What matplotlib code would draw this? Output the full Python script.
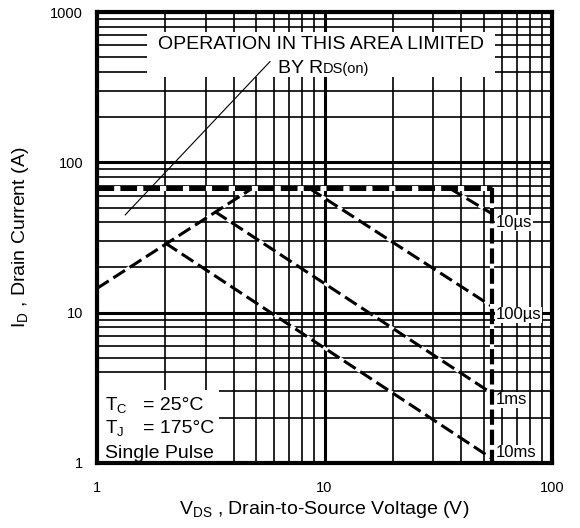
import matplotlib
matplotlib.use("Agg")
import matplotlib.pyplot as plt
from matplotlib.patches import Rectangle
from matplotlib.ticker import LogLocator, NullFormatter, FixedLocator, FixedFormatter

plt.rcParams['font.family'] = ['Liberation Sans', 'DejaVu Sans']
plt.rcParams['mathtext.fontset'] = 'custom'
plt.rcParams['mathtext.rm'] = 'Liberation Sans'
plt.rcParams['mathtext.it'] = 'Liberation Sans'
plt.rcParams['lines.scale_dashes'] = False

# SOA limits
i_max = 67.0          # package / current limit (A)
v_max = 54.5          # BVdss limit (V)
rds_v = [1.0, 4.8]    # RDS(on) limited rising segment
rds_i = [14.5, 67.0]

pulse_labels = ['10µs', '100µs', '1ms', '10ms']
pulse_v = [[35.6, 54.5], [8.6, 54.5], [3.3, 54.5], [2.0, 54.5]]
pulse_i = [[67.0, 45.5], [67.0, 11.0], [47.0, 2.9], [29.0, 1.07]]
label_i = [39.5, 9.66, 2.63, 1.17]

# thin annotation line pointing at the RDS(on) limit
arrow_v = [1.33, 5.76]
arrow_i = [44.7, 468.0]

x_ticks = [1, 10, 100]
y_ticks = [1, 10, 100, 1000]

fig = plt.figure(figsize=(5.8, 5.28), dpi=100)
ax = fig.add_axes([97 / 580, 1 - 463 / 528, 455 / 580, 451 / 528])
ax.set_xscale('log')
ax.set_yscale('log')
ax.set_xlim(1, 100)
ax.set_ylim(1, 1000)

ax.xaxis.set_major_locator(FixedLocator(x_ticks))
ax.xaxis.set_major_formatter(FixedFormatter([str(t) for t in x_ticks]))
ax.yaxis.set_major_locator(FixedLocator(y_ticks))
ax.yaxis.set_major_formatter(FixedFormatter([str(t) for t in y_ticks]))
for axis in (ax.xaxis, ax.yaxis):
    axis.set_minor_locator(LogLocator(base=10, subs=range(2, 10)))
    axis.set_minor_formatter(NullFormatter())
ax.tick_params(which='both', length=0, labelsize=10.5)
ax.tick_params(axis='x', pad=13)
ax.tick_params(axis='y', pad=10)

ax.grid(which='major', color='black', lw=2.2, zorder=1)
ax.grid(which='minor', color='black', lw=1.2, zorder=1)
ax.set_axisbelow(True)
for s in ax.spines.values():
    s.set_linewidth(3.0)
    s.set_zorder(10)

# white patches behind the text blocks
ax.add_patch(Rectangle((1.66, 372), 56.2 - 1.66, 741 - 372, facecolor='white',
                       edgecolor='none', zorder=2))
ax.add_patch(Rectangle((1.0, 1.0), 2.45, 2.05, facecolor='white',
                       edgecolor='none', zorder=2))

# limit lines
ax.plot([1, v_max], [i_max, i_max], color='black', lw=3.6, dashes=(12, 4.5),
        gapcolor='white', zorder=5, solid_capstyle='butt', dash_capstyle='butt')
ax.plot([v_max, v_max], [i_max, 1], color='black', lw=3.0, dashes=(11, 3.5),
        gapcolor='white', zorder=5, dash_capstyle='butt')
ax.plot(rds_v, rds_i, color='black', lw=2.2, dashes=(10, 4),
        gapcolor='white', zorder=4, dash_capstyle='butt')
for v, i in zip(pulse_v, pulse_i):
    ax.plot(v, i, color='black', lw=2.2, dashes=(10, 4), gapcolor='white',
            zorder=4, dash_capstyle='butt')

ax.plot(arrow_v, arrow_i, color='black', lw=0.8, zorder=6)

for lab, yi in zip(pulse_labels, label_i):
    ax.text(56.8, yi, lab, fontsize=12, ha='left', va='center', zorder=7,
            bbox=dict(facecolor='white', edgecolor='none', pad=0.5))

ax.text(9.65, 566, 'OPERATION IN THIS AREA LIMITED', fontsize=14,
        ha='center', va='baseline', zorder=7)
ax.text(9.85, 392, 'BY R', fontsize=14, ha='right', va='baseline', zorder=7)
ax.text(9.85, 392, 'DS(on)', fontsize=10.5, ha='left', va='baseline', zorder=7)

ax.text(1.084, 2.25, r'T$_\mathregular{C}$', fontsize=13.5, ha='left',
        va='baseline', zorder=7)
ax.text(1.6, 2.25, '= 25°C', fontsize=14, ha='left', va='baseline', zorder=7)
ax.text(1.084, 1.58, r'T$_\mathregular{J}$', fontsize=13.5, ha='left',
        va='baseline', zorder=7)
ax.text(1.6, 1.58, '= 175°C', fontsize=14, ha='left', va='baseline', zorder=7)
ax.text(1.084, 1.08, 'Single Pulse', fontsize=14, ha='left',
        va='baseline', zorder=7)

ax.set_xlabel(r'V$_\mathregular{DS}$ , Drain-to-Source Voltage (V)',
              fontsize=14, labelpad=3)
ax.set_ylabel(r'I$_\mathregular{D}$ , Drain Current (A)', fontsize=14,
              labelpad=14)

fig.savefig('out.png', dpi=100)
